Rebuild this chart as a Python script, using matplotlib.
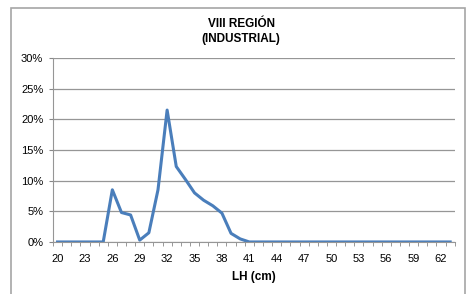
import matplotlib
matplotlib.use("Agg")
import matplotlib.pyplot as plt
import numpy as np
from matplotlib.patches import Rectangle

plt.rcParams['font.family'] = ['Liberation Sans', 'DejaVu Sans']

lh = list(range(20, 64))
pct = [0, 0, 0, 0, 0, 0, 8.5, 4.8, 4.4, 0.3, 1.5, 8.5, 21.5, 12.3, 10.2, 8.0,
       6.8, 5.9, 4.7, 1.4, 0.5, 0, 0, 0, 0, 0, 0, 0, 0, 0, 0, 0, 0, 0, 0, 0,
       0, 0, 0, 0, 0, 0, 0, 0]
yticks = [0, 5, 10, 15, 20, 25, 30]

fig = plt.figure(figsize=(4.71, 2.94), dpi=100)
ax = fig.add_axes([0.1125, 0.177, 0.853, 0.626])

x = np.arange(len(lh))
ax.plot(x, pct, color='#4A7EBB', linewidth=2.2)

ax.set_xlim(-0.5, len(lh) - 0.5)
ax.set_ylim(0, 30)
ax.set_yticks(yticks)
ax.set_yticklabels([f'{v}%' for v in yticks], fontsize=8)
ax.set_xticks(x[::3])
ax.set_xticklabels([str(v) for v in lh[::3]], fontsize=8)
ax.set_xticks(np.arange(-0.5, len(lh), 1), minor=True)
ax.tick_params(axis='x', which='major', length=0, pad=9)
ax.tick_params(axis='x', which='minor', length=3, color='#888888', direction='out')
ax.tick_params(axis='y', length=3, color='#888888', pad=4)

ax.grid(axis='y', color='#969696', linewidth=0.9)
ax.set_axisbelow(True)
for s in ['top', 'right']:
    ax.spines[s].set_visible(False)
ax.spines['left'].set_color('#969696')
ax.spines['bottom'].set_color('#969696')

ax.set_xlabel('LH (cm)', fontsize=8.5, fontweight='bold', labelpad=5)
fig.text(241 / 471, 1 - 31.5 / 294, 'VIII REGIÓN\n(INDUSTRIAL)',
         ha='center', va='center', fontsize=8.5, fontweight='bold', linespacing=1.25)

fig.patches.append(Rectangle((11 / 471, -0.05), 454 / 471, 1 - 8 / 294 + 0.05,
                             transform=fig.transFigure, fill=False,
                             edgecolor='#a6a6a6', linewidth=1.2))

fig.savefig('out.png', dpi=100)
